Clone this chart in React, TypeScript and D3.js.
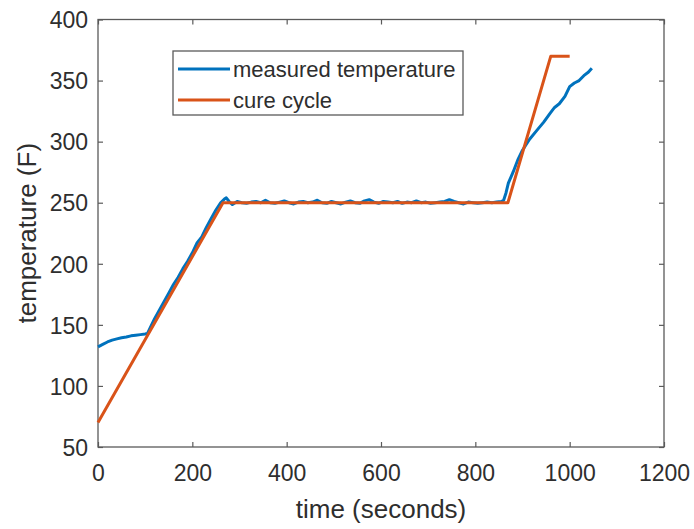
import React, { useEffect, useRef } from "react";
import * as d3 from "d3";

const cureTime = [0, 265, 869, 960, 1000];
const cureTemp = [70, 250, 250, 370, 370];

const measTime = [
  0, 10, 20, 30, 40, 50, 60, 70, 80, 90, 100, 105, 110, 120, 130, 140, 150, 160, 170, 180, 190, 200,
  210, 220, 230, 240, 250, 260, 268, 272, 278, 285, 295, 305, 315, 325, 335, 345, 355, 365, 375, 385,
  395, 405, 415, 425, 435, 445, 455, 465, 475, 485, 495, 505, 515, 525, 535, 545, 555, 565, 575, 585,
  595, 605, 615, 625, 635, 645, 655, 665, 675, 685, 695, 705, 715, 725, 735, 745, 755, 765, 775, 785,
  795, 805, 815, 825, 835, 845, 855, 860, 865, 870, 880, 890, 900, 915, 930, 945, 958, 968, 978, 990,
  1000, 1010, 1020, 1030, 1040, 1047,
];
const measTemp = [
  132, 134, 136, 137.5, 138.5, 139.5, 140, 141, 141.5, 142, 142.5, 143, 147, 155, 162, 169, 176, 183,
  189, 196, 202, 209, 217, 222, 230, 237, 244, 250, 253, 254, 251, 248.5, 251, 250, 249.5, 250.5, 251,
  250, 252, 250, 249.5, 250.5, 251.5, 250, 249, 250.5, 251, 250, 250.5, 252, 250, 249.5, 251, 250, 249,
  250.5, 251.5, 250, 249.5, 251.5, 252.5, 250.5, 249.5, 251, 250.5, 250, 251, 249.5, 250.5, 250, 251.5,
  250, 250.5, 249.5, 250, 250.5, 251, 252.5, 251, 250, 249, 250.5, 250, 249.5, 250, 250.5, 250, 250.5,
  251, 252, 258, 266, 275, 285, 293, 302, 309, 316, 323, 328, 331, 337, 345, 348, 350, 354, 357, 360,
];

const xTicks = [0, 200, 400, 600, 800, 1000, 1200];
const yTicks = [50, 100, 150, 200, 250, 300, 350, 400];
const seriesNames = ["measured temperature", "cure cycle"];
const seriesColors = ["#0072BD", "#D95319"];

const W = 694;
const H = 529;
const M = { left: 98, right: 664, top: 19.5, bottom: 447 };
const FONT = "'Liberation Sans', Arial, Helvetica, sans-serif";
const AXIS_COLOR = "#5a5a5a";
const TEXT_COLOR = "#2e2e2e";

export default function App() {
  const ref = useRef<SVGSVGElement>(null);

  useEffect(() => {
    const svg = d3.select(ref.current);
    svg.selectAll("*").remove();

    const x = d3.scaleLinear().domain([0, 1200]).range([M.left, M.right]);
    const y = d3.scaleLinear().domain([50, 400]).range([M.bottom, M.top]);

    svg.append("rect").attr("x", 0).attr("y", 0).attr("width", W).attr("height", H).attr("fill", "#fff");

    const styleAxis = (g: any) => {
      g.select(".domain").remove();
      g.selectAll("line").attr("stroke", AXIS_COLOR).attr("stroke-width", 1.2);
      g.selectAll("text")
        .attr("fill", TEXT_COLOR)
        .attr("font-family", FONT)
        .attr("font-size", 23);
    };

    const gx = svg
      .append("g")
      .attr("transform", `translate(0,${M.bottom})`)
      .call(d3.axisBottom(x).tickValues(xTicks).tickSize(-5).tickPadding(18).tickFormat(d3.format("d")));
    styleAxis(gx);

    const gxt = svg
      .append("g")
      .attr("transform", `translate(0,${M.top})`)
      .call(d3.axisTop(x).tickValues(xTicks).tickSize(-5).tickFormat(() => ""));
    styleAxis(gxt);

    const gy = svg
      .append("g")
      .attr("transform", `translate(${M.left},0)`)
      .call(d3.axisLeft(y).tickValues(yTicks).tickSize(-5).tickPadding(10).tickFormat(d3.format("d")));
    styleAxis(gy);
    gy.selectAll("text").attr("dy", "0.36em");

    const gyr = svg
      .append("g")
      .attr("transform", `translate(${M.right},0)`)
      .call(d3.axisRight(y).tickValues(yTicks).tickSize(-5).tickFormat(() => ""));
    styleAxis(gyr);

    svg
      .append("rect")
      .attr("x", M.left)
      .attr("y", M.top)
      .attr("width", M.right - M.left)
      .attr("height", M.bottom - M.top)
      .attr("fill", "none")
      .attr("stroke", AXIS_COLOR)
      .attr("stroke-width", 1.3);

    const line = d3
      .line<[number, number]>()
      .x((d) => x(d[0]))
      .y((d) => y(d[1]));

    const cure: [number, number][] = cureTime.map((t, i) => [t, cureTemp[i]]);
    const meas: [number, number][] = measTime.map((t, i) => [t, measTemp[i]]);

    svg
      .append("path")
      .attr("d", line(meas))
      .attr("fill", "none")
      .attr("stroke", seriesColors[0])
      .attr("stroke-width", 3)
      .attr("stroke-linejoin", "round");

    svg
      .append("path")
      .attr("d", line(cure))
      .attr("fill", "none")
      .attr("stroke", seriesColors[1])
      .attr("stroke-width", 3)
      .attr("stroke-linejoin", "round");

    // axis labels
    svg
      .append("text")
      .attr("x", (M.left + M.right) / 2)
      .attr("y", 518)
      .attr("text-anchor", "middle")
      .attr("font-family", FONT)
      .attr("font-size", 26)
      .attr("fill", TEXT_COLOR)
      .text("time (seconds)");

    svg
      .append("text")
      .attr("transform", `translate(36,${(M.top + M.bottom) / 2}) rotate(-90)`)
      .attr("text-anchor", "middle")
      .attr("font-family", FONT)
      .attr("font-size", 26)
      .attr("fill", TEXT_COLOR)
      .text("temperature (F)");

    // legend
    const lg = svg.append("g");
    lg.append("rect")
      .attr("x", 173)
      .attr("y", 51)
      .attr("width", 290)
      .attr("height", 64)
      .attr("fill", "#fff")
      .attr("stroke", AXIS_COLOR)
      .attr("stroke-width", 1.3);
    const rowsY = [69, 100];
    seriesNames.forEach((name, i) => {
      lg.append("line")
        .attr("x1", 178)
        .attr("x2", 230)
        .attr("y1", rowsY[i])
        .attr("y2", rowsY[i])
        .attr("stroke", seriesColors[i])
        .attr("stroke-width", 3);
      lg.append("text")
        .attr("x", 233)
        .attr("y", rowsY[i])
        .attr("dy", "0.35em")
        .attr("font-family", FONT)
        .attr("font-size", 22)
        .attr("fill", TEXT_COLOR)
        .text(name);
    });
  }, []);

  return (
    <svg
      ref={ref}
      width={W}
      height={H}
      style={{ position: "absolute", left: 0, top: 0, display: "block" }}
    />
  );
}
